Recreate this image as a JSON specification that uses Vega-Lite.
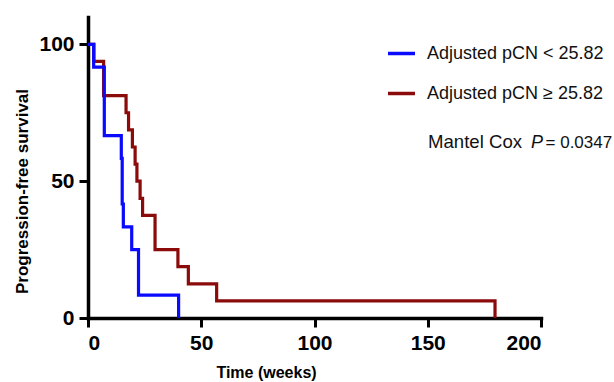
{
  "$schema": "https://vega.github.io/schema/vega-lite/v6.json",
  "width": 453,
  "height": 301,
  "autosize": "none",
  "padding": {"left": 88, "top": 17, "right": 73, "bottom": 64},
  "background": "white",
  "config": {
    "view": {"stroke": null},
    "font": "Liberation Sans",
    "axis": {
      "domainColor": "black", "domainWidth": 3.5, "domainCap": "square",
      "tickColor": "black", "tickWidth": 3, "tickSize": 9,
      "labelFont": "Liberation Sans", "labelFontWeight": "bold", "labelFontSize": 21, "labelColor": "black",
      "titleFont": "Liberation Sans", "titleFontWeight": "bold", "titleFontSize": 16, "titleColor": "black",
      "grid": false
    }
  },
  "datasets": {
    "km": [
      {"group": "Adjusted pCN ≥ 25.82", "time": 0, "survival": 100},
      {"group": "Adjusted pCN ≥ 25.82", "time": 2.6, "survival": 93.75},
      {"group": "Adjusted pCN ≥ 25.82", "time": 6.9, "survival": 81.25},
      {"group": "Adjusted pCN ≥ 25.82", "time": 16.8, "survival": 75},
      {"group": "Adjusted pCN ≥ 25.82", "time": 17.9, "survival": 68.75},
      {"group": "Adjusted pCN ≥ 25.82", "time": 19.6, "survival": 62.5},
      {"group": "Adjusted pCN ≥ 25.82", "time": 20.8, "survival": 56.25},
      {"group": "Adjusted pCN ≥ 25.82", "time": 21.6, "survival": 50},
      {"group": "Adjusted pCN ≥ 25.82", "time": 23.0, "survival": 43.75},
      {"group": "Adjusted pCN ≥ 25.82", "time": 24.1, "survival": 37.5},
      {"group": "Adjusted pCN ≥ 25.82", "time": 29.6, "survival": 25},
      {"group": "Adjusted pCN ≥ 25.82", "time": 39.7, "survival": 18.75},
      {"group": "Adjusted pCN ≥ 25.82", "time": 44.3, "survival": 12.5},
      {"group": "Adjusted pCN ≥ 25.82", "time": 56.8, "survival": 6.25},
      {"group": "Adjusted pCN ≥ 25.82", "time": 179.7, "survival": 0},
      {"group": "Adjusted pCN < 25.82", "time": 0, "survival": 100},
      {"group": "Adjusted pCN < 25.82", "time": 2.5, "survival": 91.67},
      {"group": "Adjusted pCN < 25.82", "time": 7.2, "survival": 66.67},
      {"group": "Adjusted pCN < 25.82", "time": 14.7, "survival": 58.33},
      {"group": "Adjusted pCN < 25.82", "time": 15.1, "survival": 41.67},
      {"group": "Adjusted pCN < 25.82", "time": 15.6, "survival": 33.33},
      {"group": "Adjusted pCN < 25.82", "time": 19.3, "survival": 25},
      {"group": "Adjusted pCN < 25.82", "time": 22.3, "survival": 8.33},
      {"group": "Adjusted pCN < 25.82", "time": 40, "survival": 0}
    ],
    "note": [{"part1": "Mantel Cox", "part2": "P", "part3": "= 0.0347"}]
  },
  "layer": [
    {
      "data": {"name": "km"},
      "mark": {"type": "line", "interpolate": "step-after", "strokeWidth": 3.2, "clip": false},
      "encoding": {
        "x": {"field": "time", "type": "quantitative",
              "scale": {"domain": [0, 200], "nice": false, "zero": true},
              "axis": {"values": [0, 50, 100, 150, 200], "title": "Time (weeks)", "labelPadding": 5,
                       "titleX": 178, "titleY": 59, "titleBaseline": "alphabetic"}},
        "y": {"field": "survival", "type": "quantitative",
              "scale": {"domain": [0, 110], "nice": false},
              "axis": {"values": [0, 50, 100], "title": "Progression-free survival", "labelPadding": 5,
                       "titleFontSize": 17, "titleX": -66, "titleY": 174, "titleBaseline": "middle"}},
        "color": {"field": "group", "type": "nominal",
                  "scale": {"domain": ["Adjusted pCN < 25.82", "Adjusted pCN ≥ 25.82"], "range": ["#0a0aff", "#8b0a0a"]},
                  "legend": {"title": null, "orient": "none", "legendX": 298, "legendY": 21, "padding": 0,
                             "symbolType": "stroke", "symbolSize": 729, "symbolStrokeWidth": 3.5,
                             "labelFont": "Liberation Sans", "labelFontSize": 18, "labelColor": "#111",
                             "labelOffset": 10, "rowPadding": 15, "labelLimit": 300}},
        "order": {"field": "time", "type": "quantitative"}
      }
    },
    {
      "data": {"name": "note"},
      "mark": {"type": "text", "align": "left", "baseline": "alphabetic", "fontSize": 18.6, "font": "Liberation Sans", "color": "#111"},
      "encoding": {"text": {"field": "part1"}, "x": {"datum": 150.1}, "y": {"datum": 62.1}}
    },
    {
      "data": {"name": "note"},
      "mark": {"type": "text", "align": "left", "baseline": "alphabetic", "fontSize": 18, "fontStyle": "italic", "font": "Liberation Sans", "color": "#111"},
      "encoding": {"text": {"field": "part2"}, "x": {"datum": 195.6}, "y": {"datum": 62.1}}
    },
    {
      "data": {"name": "note"},
      "mark": {"type": "text", "align": "left", "baseline": "alphabetic", "fontSize": 17, "font": "Liberation Sans", "color": "#111"},
      "encoding": {"text": {"field": "part3"}, "x": {"datum": 202.0}, "y": {"datum": 62.1}}
    }
  ]
}
